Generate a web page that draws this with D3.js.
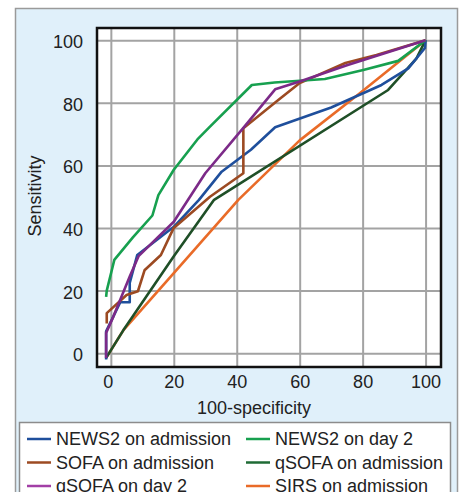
<!DOCTYPE html>
<html>
<head>
<meta charset="utf-8">
<script src="https://cdn.jsdelivr.net/npm/d3@7"></script>
<style>
  html, body { margin: 0; padding: 0; background: #fff; }
  svg { display: block; font-family: "Liberation Sans", Arial, sans-serif; }
  .tick text { font-size: 18px; fill: #222; }
  .grid line { stroke: #a3a3a3; stroke-width: 2; }
  .grid .domain { display: none; }
</style>
</head>
<body>
<svg id="chart" width="466" height="492"></svg>
<script>
// ROC curves: [100-specificity, sensitivity]
const NEWS2_ADM = [[-1.5,-2],[-1.5,7],[3,16.3],[6,16.3],[6,22.5],[8.4,31.4],[20,40.4],[28,49],[35.2,58],[44.5,65],[52.2,72.2],[70,78.5],[86,85.7],[94.5,91],[99.8,97.5],[100,100]];
const NEWS2_D2 = [[-1.5,18],[-1.3,20],[1.1,29.8],[7,37],[13.2,44],[15.1,50.5],[20,58.6],[27.5,68.3],[31.5,72.4],[44.8,85.7],[52,86.5],[68,87.6],[80.2,90.5],[91.3,93.4],[100,100]];
const SOFA_ADM = [[-1.3,9.5],[-1.3,12.8],[5,18.6],[8.6,19.8],[10.7,26.5],[15.9,31.4],[19.9,39.9],[31.5,50],[42.1,57.5],[42.1,71.9],[53.2,80.9],[60,86.3],[74.5,92.7],[84.4,95.3],[100,100]];
const QSOFA_ADM = [[-1.5,-1.5],[4,7.4],[20,31],[32.8,49],[88.1,84.1],[97,94],[100,100]];
const QSOFA_D2 = [[-1.5,-1.5],[-1.5,6.5],[0.8,11.7],[6,24.5],[8.8,31],[20,42],[30,57.5],[42.1,72],[52.2,84.3],[60,86.8],[75,92],[100,100]];
const SIRS_ADM = [[-1.5,-1.5],[4,7.4],[20,25.6],[40.5,49],[60,68],[79,83],[100,100]];

const TICKS = [0, 20, 40, 60, 80, 100];

// drawing order: first entries go underneath
const SERIES = [
  { name: "SIRS on admission", color: "#e96b28", values: SIRS_ADM },
  { name: "qSOFA on admission", color: "#1f4f27", values: QSOFA_ADM },
  { name: "NEWS2 on admission", color: "#1f4f9c", values: NEWS2_ADM },
  { name: "SOFA on admission", color: "#9c4a22", values: SOFA_ADM },
  { name: "NEWS2 on day 2", color: "#17a04f", values: NEWS2_D2 },
  { name: "qSOFA on day 2", color: "#7c2a88", values: QSOFA_D2 },
];

// legend order, two columns
const LEGEND = [
  ["NEWS2 on admission", "#1f4f9c"], ["NEWS2 on day 2", "#17a04f"],
  ["SOFA on admission", "#9c4a22"], ["qSOFA on admission", "#1f6b35"],
  ["qSOFA on day 2", "#a23fa6"], ["SIRS on admission", "#e96b28"],
];

const svg = d3.select("#chart");

// outer light-blue panel
svg.append("rect")
  .attr("x", 15.5).attr("y", 8.5).attr("width", 442).attr("height", 500)
  .attr("fill", "#e0f0fa").attr("stroke", "#9a9a9a").attr("stroke-width", 1.5);

const P = { left: 97, right: 441, top: 28, bottom: 367 };
const x = d3.scaleLinear().domain([-4.4, 104.9]).range([P.left, P.right]);
const y = d3.scaleLinear().domain([-4.4, 103.9]).range([P.bottom, P.top]);

svg.append("rect")
  .attr("x", P.left).attr("y", P.top)
  .attr("width", P.right - P.left).attr("height", P.bottom - P.top)
  .attr("fill", "#fff");

// gridlines
svg.append("g").attr("class", "grid")
  .attr("transform", `translate(0,${P.bottom})`)
  .call(d3.axisBottom(x).tickValues(TICKS).tickSize(-(P.bottom - P.top)).tickFormat(""));
svg.append("g").attr("class", "grid")
  .attr("transform", `translate(${P.left},0)`)
  .call(d3.axisLeft(y).tickValues(TICKS).tickSize(-(P.right - P.left)).tickFormat(""));

// curves
const line = d3.line().x(d => x(d[0])).y(d => y(d[1]));
svg.append("g").selectAll("path")
  .data(SERIES)
  .join("path")
  .attr("d", d => line(d.values))
  .attr("fill", "none")
  .attr("stroke", d => d.color)
  .attr("stroke-width", 2.6)
  .attr("stroke-linejoin", "round");

// frame
svg.append("rect")
  .attr("x", P.left).attr("y", P.top)
  .attr("width", P.right - P.left).attr("height", P.bottom - P.top)
  .attr("fill", "none").attr("stroke", "#111").attr("stroke-width", 2.5);

// tick labels
const xAx = svg.append("g")
  .attr("transform", `translate(0,${P.bottom})`)
  .call(d3.axisBottom(x).tickValues(TICKS).tickSize(0).tickPadding(8));
xAx.select(".domain").remove();
xAx.selectAll("text").attr("dx", d => d === 0 ? -3 : 0);

const yAx = svg.append("g")
  .attr("transform", `translate(${P.left},0)`)
  .call(d3.axisLeft(y).tickValues(TICKS).tickSize(0).tickPadding(14));
yAx.select(".domain").remove();
yAx.selectAll("text").attr("dy", "0.42em");

// axis titles
svg.append("text")
  .attr("x", 254).attr("y", 414)
  .attr("text-anchor", "middle")
  .attr("font-size", 18).attr("fill", "#222")
  .text("100-specificity");
svg.append("text")
  .attr("transform", "translate(41,196) rotate(-90)")
  .attr("text-anchor", "middle")
  .attr("font-size", 18).attr("fill", "#222")
  .text("Sensitivity");

// legend
const lg = svg.append("g");
lg.append("rect")
  .attr("x", 19.5).attr("y", 422.5).attr("width", 431).attr("height", 90)
  .attr("fill", "#fff").attr("stroke", "#8c8c8c").attr("stroke-width", 1.5);

const item = lg.selectAll("g.item")
  .data(LEGEND)
  .join("g")
  .attr("class", "item")
  .attr("transform", (d, i) => `translate(${i % 2 ? 246 : 27},${439 + Math.floor(i / 2) * 23.5})`);
item.append("line")
  .attr("x1", 0).attr("x2", 24)
  .attr("stroke", d => d[1]).attr("stroke-width", 2.5);
item.append("text")
  .attr("x", 29).attr("dy", "0.36em")
  .attr("font-size", 18).attr("fill", "#222")
  .text(d => d[0]);
</script>
</body>
</html>
